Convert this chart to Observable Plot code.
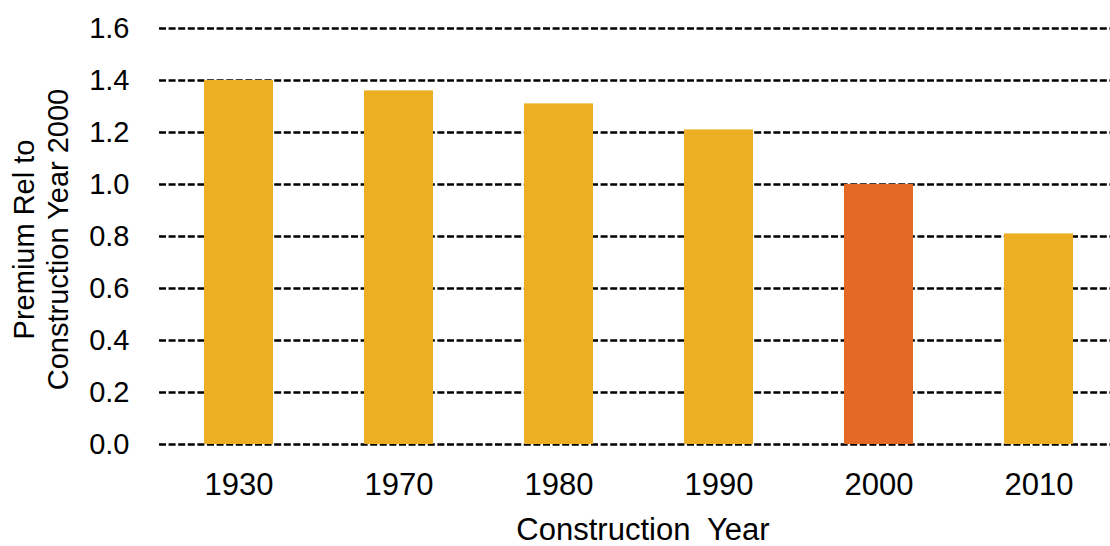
<!DOCTYPE html>
<html>
<head>
<meta charset="utf-8">
<script src="https://cdn.jsdelivr.net/npm/d3@7"></script>
<script src="https://cdn.jsdelivr.net/npm/@observablehq/plot@0.6"></script>
<style>
  html, body { margin: 0; padding: 0; background: #fff; }
  #chart svg { display: block; }
</style>
</head>
<body>
<div id="chart"></div>
<script>
const years = ["1930", "1970", "1980", "1990", "2000", "2010"];
const premiums = [1.40, 1.36, 1.31, 1.21, 1.00, 0.81];
const yTicks = [0, 0.2, 0.4, 0.6, 0.8, 1.0, 1.2, 1.4, 1.6];
const baseYear = "2000";
const yTitle = "Premium Rel to\nConstruction Year 2000";
const xTitle = "Construction\u00A0 Year";

const data = years.map((y, i) => ({year: y, value: premiums[i]}));

const gold = "#ECAE22";
const orange = "#E46826";

const chart = Plot.plot({
  width: 1110,
  height: 546,
  marginLeft: 159,
  marginRight: 0,
  marginTop: 28,
  marginBottom: 102,
  style: {fontFamily: "'Liberation Sans', Arial, sans-serif", color: "#000", background: "#fff"},
  x: {domain: years, range: [156.75, 1119.75], paddingInner: 0.57, paddingOuter: 0.285, label: null},
  y: {domain: [0, 1.6], label: null},
  marks: [
    Plot.ruleY(yTicks, {stroke: "#000", strokeWidth: 2.6, strokeDasharray: "7,2.6"}),
    Plot.barY(data, {x: "year", y: "value", fill: d => d.year === baseYear ? orange : gold}),
    Plot.axisY({ticks: yTicks, tickFormat: d3.format(".1f"), tickSize: 0, tickPadding: 30, fontSize: 29, label: null}),
    Plot.axisX({tickSize: 0, tickPadding: 28, fontSize: 31, label: null}),
    Plot.text([xTitle], {frameAnchor: "bottom", textAnchor: "middle", lineAnchor: "top", dx: 8, dy: 73, fontSize: 31, fill: "#000"}),
    Plot.text([yTitle], {frameAnchor: "left", textAnchor: "middle", rotate: -90, lineAnchor: "middle", lineHeight: 1.17, dx: -119, dy: 3, fontSize: 29, fill: "#000"})
  ]
});
document.getElementById("chart").appendChild(chart);
</script>
</body>
</html>
